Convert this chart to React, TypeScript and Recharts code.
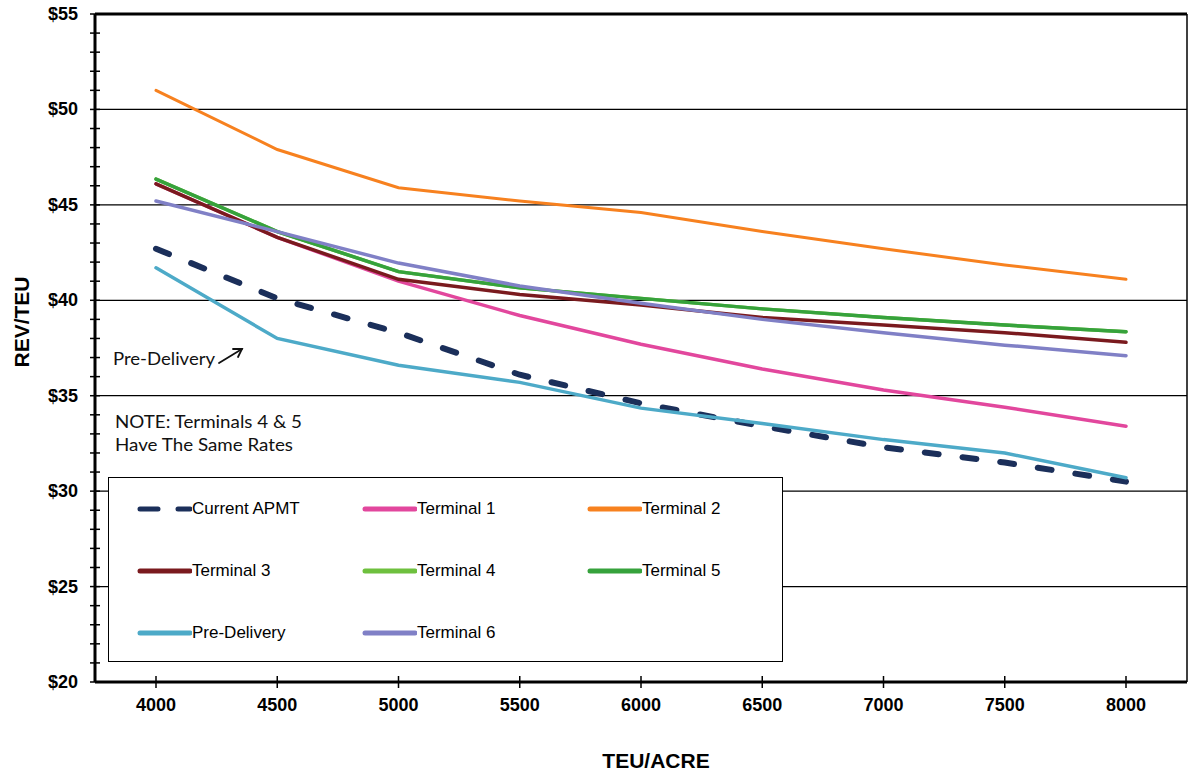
import React from 'react';
import { LineChart, Line, XAxis, YAxis, ReferenceLine } from 'recharts';

// TEU per acre categories
const teuPerAcre = [4000, 4500, 5000, 5500, 6000, 6500, 7000, 7500, 8000];

// revenue per TEU
const currentApmt = [42.7, 40.1, 38.3, 36.1, 34.6, 33.4, 32.3, 31.5, 30.5];
const terminal1 = [46.1, 43.3, 41.0, 39.2, 37.7, 36.4, 35.3, 34.4, 33.4];
const terminal2 = [51.0, 47.9, 45.9, 45.2, 44.6, 43.6, 42.7, 41.85, 41.1];
const terminal3 = [46.1, 43.3, 41.1, 40.3, 39.75, 39.1, 38.7, 38.3, 37.8];
const terminal4 = [46.35, 43.6, 41.5, 40.65, 40.1, 39.55, 39.1, 38.7, 38.35];
const terminal5 = [46.35, 43.6, 41.5, 40.65, 40.1, 39.55, 39.1, 38.7, 38.35];
const preDelivery = [41.7, 38.0, 36.6, 35.7, 34.35, 33.55, 32.7, 32.0, 30.7];
const terminal6 = [45.2, 43.6, 41.95, 40.75, 39.85, 39.0, 38.3, 37.65, 37.1];

const yTicks = Array.from({ length: 36 }, (_, i) => 20 + i);
const gridValues = [25, 30, 35, 40, 45, 50];

const series = [
  { key: 'apmt', name: 'Current APMT', color: '#1B2F5A', values: currentApmt, dashed: true },
  { key: 't1', name: 'Terminal 1', color: '#E2479D', values: terminal1 },
  { key: 't2', name: 'Terminal 2', color: '#F7811F', values: terminal2 },
  { key: 't3', name: 'Terminal 3', color: '#7A1A1E', values: terminal3 },
  { key: 't4', name: 'Terminal 4', color: '#6EC03E', values: terminal4 },
  { key: 't5', name: 'Terminal 5', color: '#36A23C', values: terminal5 },
  { key: 'pre', name: 'Pre-Delivery', color: '#4DAAC8', values: preDelivery },
  { key: 't6', name: 'Terminal 6', color: '#8080C6', values: terminal6 },
];

const data = teuPerAcre.map((teu, i) => {
  const row: Record<string, number> = { teu };
  series.forEach((s) => {
    row[s.key] = s.values[i];
  });
  return row;
});

const boldFont = '"Liberation Sans", Arial, sans-serif';
const noteFont = 'Lato, "Open Sans", sans-serif';

const YTick = (props: any) => {
  const { x, y, payload } = props;
  const major = payload.value % 5 === 0;
  return (
    <g>
      <line x1={x} x2={x + 10} y1={y} y2={y} stroke="#000" strokeWidth={1.5} />
      {major && (
        <text x={x - 12} y={y + 6} textAnchor="end" fontFamily={boldFont} fontWeight="bold" fontSize={18} fill="#000">
          ${payload.value}
        </text>
      )}
    </g>
  );
};

const XTick = (props: any) => {
  const { x, y, payload } = props;
  return (
    <g>
      <line x1={x} x2={x} y1={y - 12} y2={y} stroke="#000" strokeWidth={1.5} />
      <text x={x} y={y + 23} textAnchor="middle" fontFamily={boldFont} fontWeight="bold" fontSize={18} fill="#000">
        {payload.value}
      </text>
    </g>
  );
};

const columns = [29, 254, 479];
const rows = [31, 93, 155];

export default function App() {
  return (
    <div style={{ position: 'absolute', left: 0, top: 0, width: 1188, height: 774, background: '#fff' }}>
      <LineChart width={1188} height={774} data={data} margin={{ top: 14, right: 0, left: 0, bottom: 0 }}>
        {gridValues.map((v) => (
          <ReferenceLine key={v} y={v} stroke="#000" strokeWidth={1.2} />
        ))}
        <ReferenceLine y={55} stroke="#000" strokeWidth={3} />
        <XAxis
          dataKey="teu"
          height={92}
          padding={{ left: 61, right: 61 }}
          interval={0}
          tickLine={false}
          tickSize={6}
          tickMargin={0}
          tick={<XTick />}
          axisLine={{ stroke: '#000', strokeWidth: 3 }}
        />
        <YAxis
          width={95}
          domain={[20, 55]}
          ticks={yTicks}
          interval={0}
          tickLine={false}
          tickSize={5}
          tickMargin={0}
          tick={<YTick />}
          axisLine={{ stroke: '#000', strokeWidth: 3 }}
        />
        <YAxis
          yAxisId="right"
          orientation="right"
          width={1}
          domain={[20, 55]}
          tick={false}
          tickLine={false}
          axisLine={{ stroke: '#000', strokeWidth: 1.5 }}
        />
        {series.map((s) => (
          <Line
            key={s.key}
            type="linear"
            dataKey={s.key}
            name={s.name}
            stroke={s.color}
            strokeWidth={s.dashed ? 6 : s.key === 't2' ? 3 : 3.5}
            strokeDasharray={s.dashed ? '14 24' : undefined}
            strokeLinecap="round"
            dot={false}
            isAnimationActive={false}
          />
        ))}
      </LineChart>

      <svg width={1188} height={774} style={{ position: 'absolute', left: 0, top: 0, pointerEvents: 'none' }}>
        <text
          transform="translate(29,322) rotate(-90)"
          textAnchor="middle"
          fontFamily={boldFont}
          fontWeight="bold"
          fontSize={21}
          fill="#000"
        >
          REV/TEU
        </text>
        <text x={656} y={768} textAnchor="middle" fontFamily={boldFont} fontWeight="bold" fontSize={21} fill="#000">
          TEU/ACRE
        </text>
        <text x={113} y={365} fontFamily={noteFont} fontSize={18} fill="#111" textLength={102} lengthAdjust="spacingAndGlyphs">
          Pre-Delivery
        </text>
        <g stroke="#111" strokeWidth={1.8} fill="none" strokeLinecap="round">
          <line x1={219} y1={363} x2={242} y2={349} />
          <polyline points="233,349 242,349 238,357" />
        </g>
        <text x={115} y={428} fontFamily={noteFont} fontSize={18} fill="#111" textLength={187} lengthAdjust="spacingAndGlyphs">
          NOTE: Terminals 4 &amp; 5
        </text>
        <text x={115} y={451} fontFamily={noteFont} fontSize={18} fill="#111" textLength={178} lengthAdjust="spacingAndGlyphs">
          Have The Same Rates
        </text>
      </svg>

      <div
        style={{
          position: 'absolute',
          left: 108,
          top: 477,
          width: 673,
          height: 183,
          border: '1.5px solid #000',
          background: '#fff',
        }}
      >
        {series.map((s, i) => {
          const cx = columns[i % 3];
          const cy = rows[Math.floor(i / 3)];
          return (
            <div
              key={s.key}
              style={{ position: 'absolute', left: cx - 1, top: cy - 12, height: 24, display: 'flex', alignItems: 'center' }}
            >
              <svg width={55} height={10}>
                <line
                  x1={3}
                  x2={53}
                  y1={5}
                  y2={5}
                  stroke={s.color}
                  strokeWidth={5}
                  strokeLinecap="round"
                  strokeDasharray={s.dashed ? '18 20' : undefined}
                />
              </svg>
              <span style={{ fontFamily: boldFont, fontSize: 17, color: '#000', whiteSpace: 'nowrap' }}>{s.name}</span>
            </div>
          );
        })}
      </div>
    </div>
  );
}
